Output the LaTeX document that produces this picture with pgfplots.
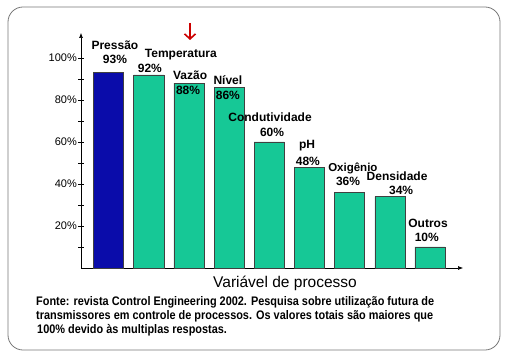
\documentclass[border=0pt]{standalone}
\usepackage{fontspec}
\setmainfont{Liberation Sans}
\newfontfamily\narrowfont[FakeStretch=0.88]{Liberation Sans}
\usepackage{pgfplots}
\pgfplotsset{compat=1.18}
\usetikzlibrary{arrows.meta}
\definecolor{barblue}{RGB}{10,12,170}
\definecolor{barteal}{RGB}{22,200,150}
\definecolor{framegray}{RGB}{120,120,120}
\begin{document}
\begin{tikzpicture}[x=1pt,y=1pt]
\path (0,0) rectangle (510,356);
\draw[framegray, line width=0.8pt, rounded corners=15pt] (8,6) rectangle (500,349);
\draw[red!80!black, line width=1.6pt, -{Straight Barb[length=5pt,width=11pt]}] (190,333) -- (190,316);
\begin{axis}[
  at={(81pt,88pt)}, anchor=south west,
  scale only axis, width=382pt, height=235pt,
  xmin=-0.684, xmax=8.82, ymin=0, ymax=111.9,
  axis lines=left,
  axis line style={black, line width=0.6pt, -{Latex[length=5pt,width=4pt]}},
  xtick=\empty,
  ytick={10,20,...,100},
  yticklabels={,20\%,,40\%,,60\%,,80\%,,100\%},
  tick align=center, major tick length=6pt,
  ytick style={black, line width=0.5pt},
  yticklabel style={font=\fontsize{11}{12}\selectfont, inner sep=1pt},
  clip=false,
]
\addplot[ybar, bar width=0.75, bar shift=0, fill=barblue, draw=black!75, line width=0.5pt]
  coordinates {(0,93)};
\addplot[ybar, bar width=0.75, bar shift=0, fill=barteal, draw=black!75, line width=0.5pt]
  coordinates {(1,92) (2,88) (3,86) (4,60) (5,48) (6,36) (7,34) (8,10)};
\begin{scope}[every node/.style={font=\bfseries\fontsize{12}{14}\selectfont, inner sep=0pt}]
\node at (axis cs:0.16,106.2) {Pressão};
\node at (axis cs:0.16,99.5) {93\%};
\node at (axis cs:1.80,101.4) {Temperatura};
\node at (axis cs:1.03,95.0) {92\%};
\node at (axis cs:2.03,91.9) {Vazão};
\node at (axis cs:1.98,84.8) {88\%};
\node at (axis cs:2.97,89.6) {Nível};
\node at (axis cs:2.97,82.2) {86\%};
\node at (axis cs:4.02,71.9) {Condutividade};
\node at (axis cs:4.07,64.8) {60\%};
\node at (axis cs:4.94,58.1) {pH};
\node at (axis cs:4.96,51.0) {48\%};
\node[font=\bfseries\fontsize{11.5}{13}\selectfont] at (axis cs:6.08,47.6) {Oxigênio};
\node at (axis cs:5.96,41.4) {36\%};
\node at (axis cs:7.18,43.8) {Densidade};
\node at (axis cs:7.28,37.1) {34\%};
\node at (axis cs:7.95,21.4) {Outros};
\node at (axis cs:7.92,14.8) {10\%};
\end{scope}
\end{axis}
\node[font=\fontsize{15.5}{17}\selectfont] at (285,73) {Variável de processo};
\begin{scope}[every node/.style={anchor=base west, inner sep=0pt, font=\narrowfont\bfseries\fontsize{12.4}{14}\selectfont}]
\node at (36,51) {Fonte: revista Control Engineering 2002. Pesquisa sobre utilização futura de};
\node at (36,37) {transmissores em controle de processos. Os valores totais são maiores que};
\node at (37,23) {100\% devido às multiplas respostas.};
\end{scope}
\end{tikzpicture}
\end{document}
